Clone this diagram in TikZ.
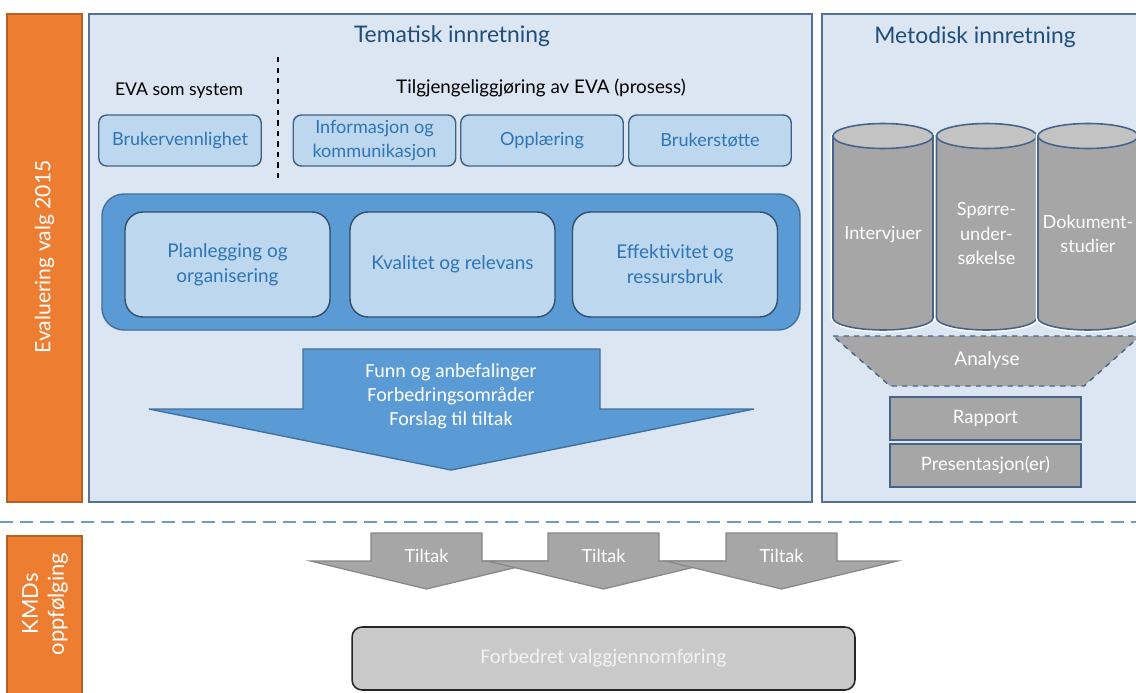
\documentclass[tikz,border=0pt]{standalone}
\usepackage{fontspec}
\setmainfont{Lato}
\newfontfamily\calibrifont{Carlito}
\usetikzlibrary{positioning, calc}

\definecolor{evaorange}{HTML}{ED7D31}
\definecolor{orangeline}{HTML}{B85F22}
\definecolor{panelfill}{HTML}{DCE6F2}
\definecolor{panelline}{HTML}{56708F}
\definecolor{darkblue}{HTML}{1F4E79}
\definecolor{lightblue}{HTML}{BDD7EE}
\definecolor{boxline}{HTML}{3F6184}
\definecolor{boxtext}{HTML}{2E75B6}
\definecolor{midblue}{HTML}{5B9BD5}
\definecolor{midline}{HTML}{41719C}
\definecolor{greyfill}{HTML}{A6A6A6}
\definecolor{greytop}{HTML}{C3C3C3}
\definecolor{greyline}{HTML}{878787}
\definecolor{cylline}{HTML}{46648A}
\definecolor{sepline}{HTML}{6C9BCB}

\tikzset{
    cyl/.pic = {
    \fill[greyfill, draw=cylline, line width=0.9pt, preaction={draw=white, line width=2.6pt}]
      (-50,-136) -- (-50,-318) arc[start angle=180, end angle=360, x radius=50, y radius=12] -- (50,-136) -- cycle;
    \draw[fill=greytop, draw=cylline, line width=0.9pt] (0,-136) ellipse[x radius=50, y radius=12.5];
    },
    panel/.style={fill=panelfill, draw=panelline, line width=0.8pt},
    bar/.style={fill=evaorange, draw=orangeline, line width=0.6pt},
    bartext/.style={rotate=90, text=white, align=center, font=\fontsize{12}{14.7}\selectfont},
    heading/.style={text=darkblue, font=\fontsize{13}{15}\selectfont},
    subheading/.style={text=black, font=\fontsize{10}{12}\selectfont},
    smallbox/.style={rectangle, rounded corners=0.16cm, fill=lightblue, draw=boxline, line width=0.8pt,
      minimum width=3.25cm, minimum height=1.02cm, inner sep=0pt, align=center, text=boxtext,
      font=\fontsize{10.3}{14}\selectfont},
    innerbox/.style={smallbox, rounded corners=0.36cm, minimum width=4.1cm, minimum height=2.1cm,
      draw=boxline!80!black, font=\fontsize{10.8}{14.2}\selectfont},
    greybox/.style={rectangle, fill=greyfill, draw=cylline, line width=0.8pt, minimum width=3.82cm,
      minimum height=0.86cm, inner sep=0pt, text=white, font=\fontsize{10.5}{12}\selectfont},
    whitetext/.style={text=white, align=center, font=\fontsize{10.3}{14}\selectfont},
}

\begin{document}
\begin{tikzpicture}[x=0.02cm, y=0.02cm]
    \useasboundingbox (0,0) rectangle (1136,-693);
    \clip (0,0) rectangle (1136,-693);

    % left bars
    \draw[bar] (7,-14) rectangle (82,-502);
    \node[bartext] (evaluering) at (44.5,-257) {Evaluering valg 2015};
    \draw[bar] (7,-536) rectangle (82,-700);
    \node[bartext, font=\fontsize{12.5}{14.7}\selectfont] (kmd) at (45,-604) {KMDs\\oppfølging};

    % panels
    \draw[panel] (89,-14) rectangle (812,-502);
    \draw[panel] (822,-14) rectangle (1145,-502);
    \node[heading] (tema) at (452,-36) {Tematisk innretning};
    \node[heading] (meto) at (975,-37) {Metodisk innretning};

    % tematisk
    \node[subheading] (system) at (179,-91) {EVA som system};
    \node[subheading, font=\fontsize{10.7}{12}\selectfont] (prosess) at (541,-88) {Tilgjengeliggjøring av EVA (prosess)};
    \draw[dashed, line width=0.8pt] (278,-57) -- (278,-181);

    \node[smallbox] (bruker) at (180,-140.5) {Brukervennlighet};
    \node[smallbox] (info) at (374.5,-140.5) {Informasjon og\\kommunikasjon};
    \node[smallbox] (oppl) at (542,-140.5) {Opplæring};
    \node[smallbox] (stotte) at (710,-140.5) {Brukerstøtte};

    \draw[fill=midblue, draw=midline, line width=0.8pt, rounded corners=0.44cm] (102,-194) rectangle (800,-330);
    \node[innerbox] (plan) at (227.5,-264.5) {Planlegging og\\organisering};
    \node[innerbox] (kval) at (452.5,-264.5) {Kvalitet og relevans};
    \node[innerbox] (eff) at (675,-264.5) {Effektivitet og\\ressursbruk};

    \draw[fill=midblue, draw=midline, line width=0.8pt] (303,-349) -- (600,-349) -- (600,-409) -- (754,-409)
      -- (451,-470) -- (149,-409) -- (303,-409) -- cycle;
    \node[whitetext, font=\calibrifont\fontsize{11.4}{13.6}\selectfont] (funn) at (451,-396)
      {Funn og anbefalinger\\Forbedringsområder\\Forslag til tiltak};

    % metodisk
    \foreach \xc in {883, 986.5, 1088}
      \pic at (\xc,0) {cyl};
    \node[whitetext] (intervju) at (883,-235) {Intervjuer};
    \node[whitetext] (sporre) at (986.5,-234) {Spørre-\\under-\\søkelse};
    \node[whitetext] (dokument) at (1088,-234) {Dokument-\\studier};

    \draw[fill=greyfill, draw=cylline, dashed, line width=0.8pt] (833,-336) -- (1140,-336) -- (1084,-386)
      -- (890,-386) -- cycle;
    \node[whitetext, font=\fontsize{10.8}{14}\selectfont] (analyse) at (987,-360) {Analyse};
    \node[greybox] (rapport) at (985.5,-418.5) {Rapport};
    \node[greybox] (present) at (985.5,-465.5) {Presentasjon(er)};

    % oppfolging
    \draw[sepline, line width=1.6pt, dash pattern=on 7.5pt off 4pt] (0,-522) -- (1136,-522);
    \foreach \xc/\nm in {426.5/tiltaka, 603.5/tiltakb, 781.5/tiltakc} {
      \draw[fill=greyfill, draw=greyline, line width=0.7pt] (\xc-55.5,-533) -- (\xc+55.5,-533) -- (\xc+55.5,-561)
        -- (\xc+116,-561) -- (\xc,-589) -- (\xc-116,-561) -- (\xc-55.5,-561) -- cycle;
      \node[whitetext] (\nm) at (\xc,-556) {Tiltak};
    }
    \node[rectangle, rounded corners=0.2cm, fill=greytop!90!white, draw=black!85, line width=0.9pt,
      minimum width=10.06cm, minimum height=1.26cm, text=white!95!black,
      font=\calibrifont\fontsize{11.8}{13}\selectfont] (forbedret) at (603.5,-658.5) {Forbedret valggjennomføring};

\end{tikzpicture}
\end{document}
